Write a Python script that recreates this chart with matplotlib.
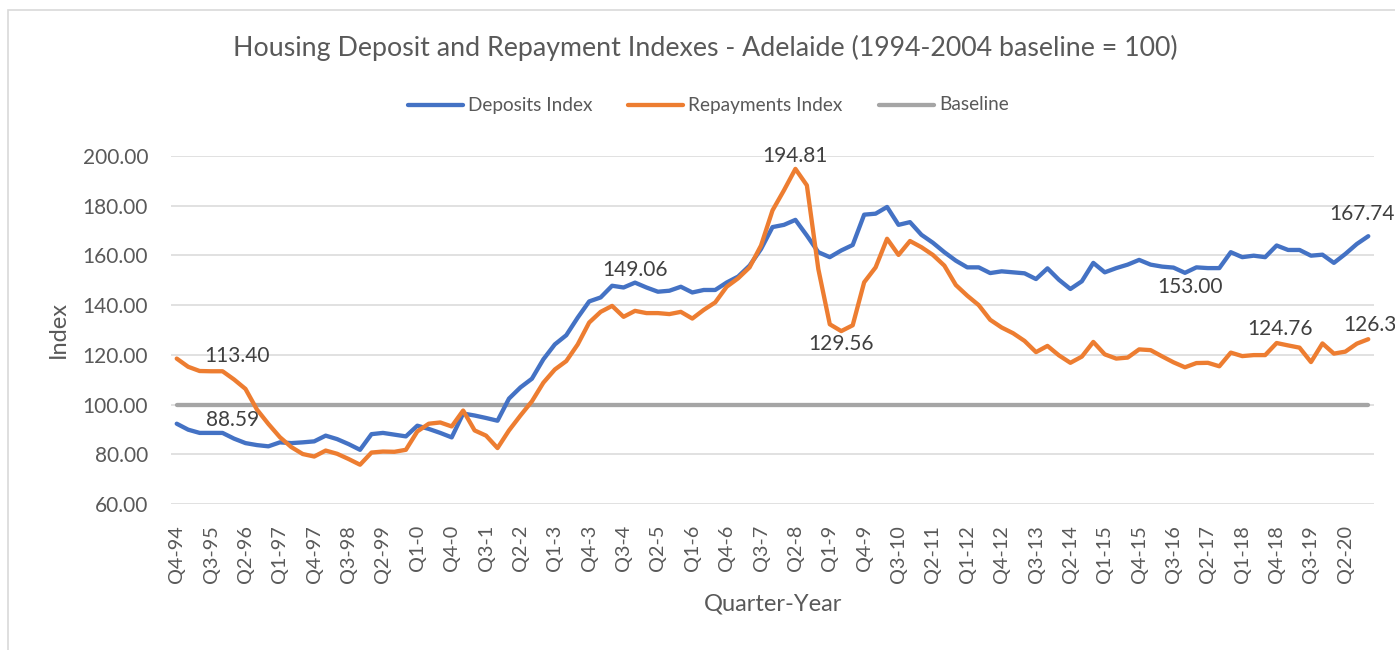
import matplotlib
matplotlib.use("Agg")
import matplotlib.pyplot as plt
from matplotlib.lines import Line2D
from matplotlib.patches import Rectangle

plt.rcParams['font.family'] = ['Lato', 'DejaVu Sans']

# ---------------- data ----------------
quarters = [f"Q{q}-{y % 100}" for y in range(1994, 2021) for q in (1, 2, 3, 4)
            if not (y == 1994 and q < 4)]

deposits = [
    92.3, 89.9, 88.6, 88.6, 88.59, 86.3, 84.5, 83.7, 83.2, 84.8,
    84.5, 84.8, 85.2, 87.5, 86.1, 84.1, 81.8, 88.1, 88.6, 87.9,
    87.2, 91.5, 90.2, 88.6, 86.8, 96.4, 95.6, 94.6, 93.5, 102.4,
    106.9, 110.4, 118.2, 124.2, 127.9, 135.0, 141.5, 143.1, 147.8, 147.1,
    149.06, 147.1, 145.4, 145.8, 147.4, 145.1, 146.1, 146.1, 149.1, 151.5,
    155.9, 162.6, 171.4, 172.3, 174.3, 168.0, 161.3, 159.3, 162.0, 164.2,
    176.4, 176.8, 179.5, 172.3, 173.4, 168.3, 165.1, 161.3, 157.9, 155.2,
    155.2, 152.9, 153.6, 153.2, 152.8, 150.5, 154.8, 150.2, 146.5, 149.6,
    157.0, 153.2, 154.9, 156.3, 158.2, 156.3, 155.5, 155.1, 153.00, 155.2,
    154.9, 154.9, 161.3, 159.3, 159.9, 159.3, 164.0, 162.2, 162.2, 159.9,
    160.3, 157.0, 160.6, 164.6, 167.74,
]

repayments = [
    118.5, 115.2, 113.5, 113.4, 113.40, 110.1, 106.3, 98.0, 92.2, 86.9,
    82.9, 80.1, 79.1, 81.5, 80.2, 78.1, 75.8, 80.7, 81.1, 81.0,
    81.8, 89.2, 92.3, 92.8, 91.2, 97.6, 89.6, 87.5, 82.5, 89.6,
    95.6, 101.3, 108.8, 114.1, 117.5, 124.2, 133.0, 137.3, 139.7, 135.3,
    137.7, 136.8, 136.8, 136.4, 137.3, 134.6, 138.1, 141.1, 147.4, 150.8,
    155.2, 164.0, 178.1, 186.2, 194.81, 188.2, 154.5, 132.3, 129.56, 131.9,
    149.2, 155.2, 166.7, 160.2, 165.8, 163.3, 160.2, 155.9, 148.1, 143.8,
    140.0, 134.1, 131.0, 128.7, 125.6, 121.1, 123.6, 119.8, 116.8, 119.3,
    125.2, 120.2, 118.5, 118.9, 122.2, 121.9, 119.4, 117.0, 115.0, 116.7,
    116.8, 115.4, 120.9, 119.5, 119.9, 119.9, 124.76, 123.8, 122.9, 117.1,
    124.6, 120.5, 121.3, 124.5, 126.3,
]

baseline = [100.0] * len(quarters)

# labelled points: (series, index, text, dx_px, dy_px, ha)
labels = [
    ("rep", 4, "113.40", 14, 15, "center"),
    ("dep", 4, "88.59", 10, 13, "center"),
    ("dep", 40, "149.06", 0, 13, "center"),
    ("rep", 54, "194.81", 0, 13, "center"),
    ("rep", 58, "129.56", 0, -13, "center"),
    ("dep", 88, "153.00", 5, -14, "center"),
    ("rep", 96, "124.76", 3, 14, "center"),
    ("dep", 104, "167.74", -6, 22, "center"),
    ("rep", 104, "126.3", -25, 14, "left"),
]

# ---------------- figure ----------------
W, H = 1395, 650
fig = plt.figure(figsize=(W / 100, H / 100), dpi=100)
fig.patch.set_facecolor("white")

# chart-area border (Excel style)
fig.patches.append(Rectangle((8 / W, -0.05), 1.2, (H - 10) / H + 0.05,
                             transform=fig.transFigure, fill=False,
                             edgecolor="#D9D9D9", linewidth=1.2))

L, R, T, B = 171, 1374, 156, 504
ax = fig.add_axes([L / W, 1 - B / H, (R - L) / W, (B - T) / H])

x = list(range(len(quarters)))
BLUE, ORANGE, GRAY = "#4472C4", "#ED7D31", "#A5A5A5"

ax.plot(x, baseline, color=GRAY, lw=3.1, solid_capstyle="round", zorder=3)
ax.plot(x, deposits, color=BLUE, lw=3.1, solid_joinstyle="round",
        solid_capstyle="round", zorder=4)
ax.plot(x, repayments, color=ORANGE, lw=3.1, solid_joinstyle="round",
        solid_capstyle="round", zorder=5)

ax.set_xlim(-0.5, len(quarters) - 0.5)
ax.set_ylim(60, 200)
ax.set_yticks(range(60, 201, 20))
ax.set_yticklabels([f"{v:.2f}" for v in range(60, 201, 20)])
ax.set_xticks(x[::3])
ax.set_xticklabels(quarters[::3], rotation=90)
ax.grid(axis="y", color="#D9D9D9", lw=1.1)
ax.set_axisbelow(True)
for s in ax.spines.values():
    s.set_visible(False)
ax.tick_params(axis="both", length=0, colors="#595959")
ax.tick_params(axis="y", labelsize=15, pad=16.5)
ax.tick_params(axis="x", labelsize=14.3, pad=15)

series = {"dep": deposits, "rep": repayments}
for s, i, txt, dx, dy, ha in labels:
    ax.annotate(txt, xy=(i, series[s][i]), xytext=(dx, dy),
                textcoords="offset pixels", ha=ha, va="center",
                fontsize=15, color="#404040", zorder=6, annotation_clip=False)

# axis titles
fig.text(773 / W, 1 - 604 / H, "Quarter-Year", ha="center", va="center",
         fontsize=17, color="#595959")
fig.text(58 / W, 1 - 330 / H, "Index", ha="center", va="center",
         rotation=90, fontsize=17, color="#595959")

# title
fig.text(705 / W, 1 - 48 / H,
         "Housing Deposit and Repayment Indexes - Adelaide (1994-2004 baseline = 100)",
         ha="center", va="center", fontsize=19.3, color="#595959")

# legend
leg_y = 1 - 105 / H
for x0, x1, col, tx, txt in [(408, 463, BLUE, 468, "Deposits Index"),
                             (628, 683, ORANGE, 688, "Repayments Index"),
                             (879, 934, GRAY, 939, "Baseline")]:
    fig.lines.append(Line2D([x0 / W, x1 / W], [leg_y, leg_y],
                            transform=fig.transFigure, color=col, lw=3.1,
                            solid_capstyle="round"))
    fig.text(tx / W, leg_y, txt, ha="left", va="center", fontsize=13.7,
             color="#595959")

fig.savefig("out.png", dpi=100)
